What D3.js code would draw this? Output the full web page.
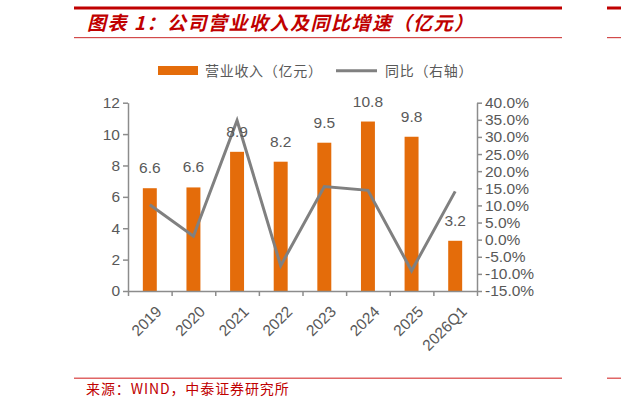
<!DOCTYPE html>
<html>
<head>
<meta charset="utf-8">
<script src="https://cdn.jsdelivr.net/npm/d3@7/dist/d3.min.js"></script>
<style>
  body { margin: 0; background: #fff; }
  svg { display: block; }
  text { font-family: "Liberation Sans", Arial, sans-serif; }
  .cjk { font-family: "Noto Sans CJK SC", sans-serif; }
</style>
</head>
<body>
<script>
"use strict";

var categories = ['2019', '2020', '2021', '2022', '2023', '2024', '2025', '2026Q1'];
var revenue = [6.55, 6.6, 8.87, 8.24, 9.45, 10.8, 9.83, 3.2];
var revenueLabels = ['6.6', '6.6', '8.9', '8.2', '9.5', '10.8', '9.8', '3.2'];
var growth = [10.2, 1.0, 34.8, -7.6, 15.5, 14.4, -9.1, 14.1];
var leftTicks = [0, 2, 4, 6, 8, 10, 12];
var rightTicks = [-15, -10, -5, 0, 5, 10, 15, 20, 25, 30, 35, 40];

var width = 621, height = 409;
var red = '#c00000', orange = '#e46c0a', grey = '#808080', textGrey = '#595959', axisGrey = '#8c8c8c';

var svg = d3.select('body').append('svg')
    .attr('width', width)
    .attr('height', height);

// header / footer rules
svg.append('rect').attr('x', 74).attr('y', 6.5).attr('width', 488).attr('height', 3).attr('fill', red);
svg.append('rect').attr('x', 607).attr('y', 6.5).attr('width', 14).attr('height', 3).attr('fill', red);
svg.append('rect').attr('x', 74).attr('y', 37).attr('width', 488).attr('height', 1.2).attr('fill', '#d24a4a');
svg.append('rect').attr('x', 607).attr('y', 37).attr('width', 14).attr('height', 1.2).attr('fill', '#d24a4a');
svg.append('rect').attr('x', 74).attr('y', 377.5).attr('width', 488).attr('height', 1.5).attr('fill', '#e06666');
svg.append('rect').attr('x', 607).attr('y', 377.5).attr('width', 14).attr('height', 1.5).attr('fill', '#e06666');

svg.append('text')
    .attr('class', 'cjk')
    .attr('x', 87).attr('y', 30)
    .attr('fill', red)
    .attr('font-size', 19)
    .attr('font-weight', 700)
    .attr('font-style', 'italic')
    .attr('letter-spacing', 1.5)
    .text('图表 1：公司营业收入及同比增速（亿元）');

svg.append('text')
    .attr('class', 'cjk')
    .attr('x', 86).attr('y', 394)
    .attr('fill', red)
    .attr('font-size', 14)
    .attr('letter-spacing', 0.9)
    .text('来源：WIND，中泰证券研究所');

// scales
var x = d3.scaleBand().domain(categories).range([128, 477]).padding(0);
var xIdx = d3.scaleLinear().domain([0, categories.length]).range([128, 477]);
var yL = d3.scaleLinear().domain([0, 12]).range([291, 102.7]);
var yR = d3.scaleLinear().domain([-15, 40]).range([291, 102.7]);
var barW = x.bandwidth() * 0.32;

// bars
svg.append('g').selectAll('rect')
    .data(revenue)
    .enter().append('rect')
    .attr('x', function(d, i) { return x(categories[i]) + x.bandwidth() / 2 - barW / 2; })
    .attr('y', function(d) { return yL(d); })
    .attr('width', barW)
    .attr('height', function(d) { return yL(0) - yL(d); })
    .attr('fill', orange);

// growth line
var line = d3.line()
    .x(function(d, i) { return x(categories[i]) + x.bandwidth() / 2; })
    .y(function(d) { return yR(d); });

svg.append('path')
    .datum(growth)
    .attr('d', line)
    .attr('fill', 'none')
    .attr('stroke', grey)
    .attr('stroke-width', 3);

// data labels
svg.append('g').selectAll('text')
    .data(revenue)
    .enter().append('text')
    .attr('x', function(d, i) { return x(categories[i]) + x.bandwidth() / 2; })
    .attr('y', function(d) { return yL(d) - 15; })
    .attr('text-anchor', 'middle')
    .attr('font-size', 15.5)
    .attr('fill', textGrey)
    .text(function(d, i) { return revenueLabels[i]; });

// axes
function styleAxis(g) {
    g.select('.domain').attr('stroke', axisGrey).attr('stroke-width', 1.5);
    g.selectAll('.tick line').attr('stroke', axisGrey).attr('stroke-width', 1.5);
    g.selectAll('.tick text').attr('fill', textGrey).attr('font-size', 15.5)
        .attr('font-family', '"Liberation Sans", Arial, sans-serif');
}

svg.append('g')
    .attr('transform', 'translate(128,0)')
    .call(d3.axisLeft(yL).tickValues(leftTicks).tickSize(5).tickSizeOuter(0).tickPadding(3))
    .call(styleAxis);

svg.append('g')
    .attr('transform', 'translate(477,0)')
    .call(d3.axisRight(yR).tickValues(rightTicks).tickSize(5).tickSizeOuter(0).tickPadding(3)
        .tickFormat(function(d) { return d.toFixed(1) + '%'; }))
    .call(styleAxis);

// x axis: ticks on category boundaries
svg.append('g')
    .attr('transform', 'translate(0,' + yL(0) + ')')
    .call(d3.axisBottom(xIdx).tickValues(d3.range(categories.length + 1)).tickSize(5).tickSizeOuter(0).tickFormat(''))
    .call(styleAxis);

svg.append('g').selectAll('text')
    .data(categories)
    .enter().append('text')
    .attr('transform', function(d) {
        return 'translate(' + (x(d) + x.bandwidth() / 2 + 5) + ',' + (yL(0) + 14) + ') rotate(-45)';
    })
    .attr('text-anchor', 'end')
    .attr('dy', '0.7em')
    .attr('font-size', 15.5)
    .attr('fill', textGrey)
    .text(function(d) { return d; });

// legend
var legend = svg.append('g');
legend.append('rect').attr('x', 158).attr('y', 66).attr('width', 40).attr('height', 9).attr('fill', orange);
legend.append('text').attr('class', 'cjk').attr('x', 205).attr('y', 75.5)
    .attr('font-size', 14).attr('letter-spacing', 0.7).attr('fill', textGrey)
    .text('营业收入（亿元）');
legend.append('line').attr('x1', 336).attr('x2', 377).attr('y1', 70.7).attr('y2', 70.7)
    .attr('stroke', grey).attr('stroke-width', 3);
legend.append('text').attr('class', 'cjk').attr('x', 385).attr('y', 75.5)
    .attr('font-size', 14).attr('letter-spacing', 0.7).attr('fill', textGrey)
    .text('同比（右轴）');
</script>
</body>
</html>
